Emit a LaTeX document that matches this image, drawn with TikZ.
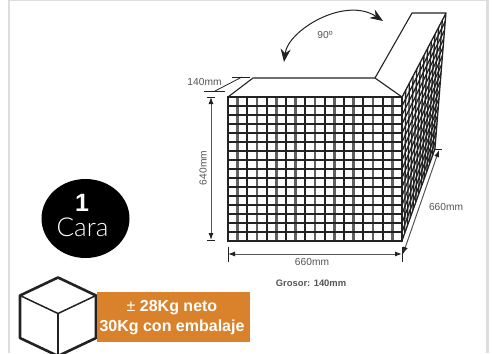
\documentclass[tikz,border=0pt]{standalone}
\usepackage{fontspec}
\setmainfont{Liberation Sans}
\newfontfamily\lightfont{Lato Light}
\usetikzlibrary{arrows.meta,calc}
\definecolor{dimgray}{HTML}{555555}
\definecolor{framegray}{HTML}{DDDDDD}
\definecolor{boxorange}{HTML}{D9822B}
\definecolor{ink}{HTML}{222222}
\tikzset{
  dimtext/.style={font=\fontsize{10.2}{11}\selectfont, text=dimgray, inner sep=0pt},
  dimline/.style={draw=dimgray, line width=1pt},
  dimarrow/.style={dimline, {Latex[length=7pt,width=5pt,color=ink]}-{Latex[length=7pt,width=5pt,color=ink]}},
  tick/.style={draw=ink, line width=0.8pt},
  outline/.style={draw=ink, line width=1.1pt, line join=round},
  gridbar/.style={draw=ink, line width=2.2pt},
  gridbarlight/.style={draw=black!62, line width=2.4pt},
  meshbar/.style={draw=ink, line width=1.3pt},
  cubeedge/.style={draw=ink, line width=2.6pt, line join=round},
  cubeinner/.style={draw=ink, line width=1.5pt},
}
\begin{document}
\begin{tikzpicture}[x=1pt,y=-1pt]
\useasboundingbox (0,0) rectangle (492,353);
\fill[white] (0,0) rectangle (492,353);
% frame
\fill[framegray] (8,0) rectangle (487,1.5);
\fill[framegray] (8,0) rectangle (10,353);
\fill[framegray] (486,0) rectangle (489,353);
% corner coordinates
\coordinate (fTL) at (228,97);
\coordinate (fTR) at (402,97);
\coordinate (fBR) at (402,241);
\coordinate (fBL) at (228,241);
\coordinate (tL) at (253,78);
\coordinate (tR) at (375,78);
\coordinate (pL) at (412,13);
\coordinate (pR) at (446,13);
\coordinate (sB) at (435,149);
% top and flap
\draw[outline] (fTL) -- (tL) -- (tR) -- (fTR);
\draw[outline] (tR) -- (pL) -- (pR);
% side mesh
\begin{scope}
\clip (fTR) -- (pR) -- (sB) -- (fBR) -- cycle;
\fill[white] (fTR) -- (pR) -- (sB) -- (fBR) -- cycle;
\foreach \i in {0,...,16}{
  \pgfmathsetmacro{\ta}{\i/16}
  \draw[meshbar] ($(402,97)!\ta!(402,241)$) -- ($(446,13)!\ta!(435,149)$);
}
\foreach \i in {0,...,12}{
  \pgfmathsetmacro{\ta}{\i/12}
  \draw[meshbar] ($(402,97)!\ta!(446,13)$) -- ($(402,241)!\ta!(435,149)$);
}
\end{scope}
\draw[outline] (fTR) -- (pR) -- (sB) -- (fBR);
% front grid
\foreach \i in {0,...,18}{
  \pgfmathsetmacro{\xx}{228+\i*174/18}
  \pgfmathparse{int(mod(\i,2))}
  \ifnum\pgfmathresult=0
    \draw[gridbar] (\xx,97) -- (\xx,241);
  \else
    \draw[gridbarlight] (\xx,97) -- (\xx,241);
  \fi
}
\foreach \j in {0,...,16}{
  \pgfmathsetmacro{\yy}{97+\j*9}
  \draw[gridbar] (228,\yy) -- (402,\yy);
}
\draw[draw=ink,line width=2.2pt] (fTL) rectangle (fBR);
% 90 degree arrow
\coordinate (aS) at (284,62);
\coordinate (aE) at (383,21);
\draw[draw=ink,line width=1pt,{Stealth[length=13pt,width=10pt]}-{Stealth[length=13pt,width=10pt]}] (aS) .. controls (288,30) and (345,-4) .. (aE);
\node[dimtext] (lab90) at (325,34.5) {90º};
% 140mm
\coordinate (a1) at (232,77); \coordinate (a2) at (250,77);
\coordinate (b1) at (204,91); \coordinate (b2) at (225,91);
\coordinate (c1) at (215,91); \coordinate (c2) at (242,77);
\draw[tick] (a1) -- (a2);
\draw[tick] (b1) -- (b2);
\draw[tick] (c1) -- (c2);
\node[dimtext] (lab140) at (204.5,81.5) {140mm};
% 640mm
\coordinate (d1) at (211,97); \coordinate (d2) at (211,240);
\draw[dimarrow] (d1) -- (d2);
\draw[tick] (207,97) -- (215,97);
\draw[tick] (207,240) -- (215,240);
\node[dimtext,rotate=90] (lab640) at (203,168) {640mm};
% 660 bottom
\coordinate (e1) at (228,254); \coordinate (e2) at (402,254);
\draw[dimarrow] (e1) -- (e2);
\draw[tick] (228,247) -- (228,262);
\draw[tick] (402.5,247) -- (402.5,262);
\node[dimtext] (lab660a) at (312,262) {660mm};
% 660 right
\coordinate (g1) at (403,254); \coordinate (g2) at (439,150);
\draw[dimarrow] (g1) -- (g2);
\draw[tick] (434,149.5) -- (442,149.5);
\node[dimtext] (lab660b) at (446,207) {660mm};
% Grosor
\node[font=\bfseries\fontsize{9.4}{10}\selectfont,text=dimgray,inner sep=0pt] (gros) at (311,283) {Grosor: 140mm};
% Badge
\fill[black] (85.5,218.5) ellipse [x radius=44, y radius=39.5];
\node[text=white,font=\bfseries\fontsize{25}{26}\selectfont,inner sep=0pt] (one) at (82,203) {1};
\node[text=white,font=\lightfont\fontsize{26}{27}\selectfont,inner sep=0pt] (cara) at (82.5,227) {Cara};
% cube
\begin{scope}
\clip (0,0) rectangle (492,353);
\draw[cubeedge] (58,277.5) -- (96,295.5) -- (96,338) -- (58,356) -- (20,338) -- (20,295.5) -- cycle;
\draw[cubeinner] (20,295.5) -- (58,313.5) -- (96,295.5);
\draw[cubeinner] (58,313.5) -- (58,356);
\end{scope}
% orange box
\fill[boxorange] (97,292) rectangle (250,342);
\node[text=white,font=\bfseries\fontsize{16}{17}\selectfont,inner sep=0pt] (w1) at (172,307.5) {{\mdseries ±} 28Kg neto};
\node[text=white,font=\bfseries\fontsize{16}{17}\selectfont,inner sep=0pt] (w2) at (172,327.5) {30Kg con embalaje};
\end{tikzpicture}
\end{document}
